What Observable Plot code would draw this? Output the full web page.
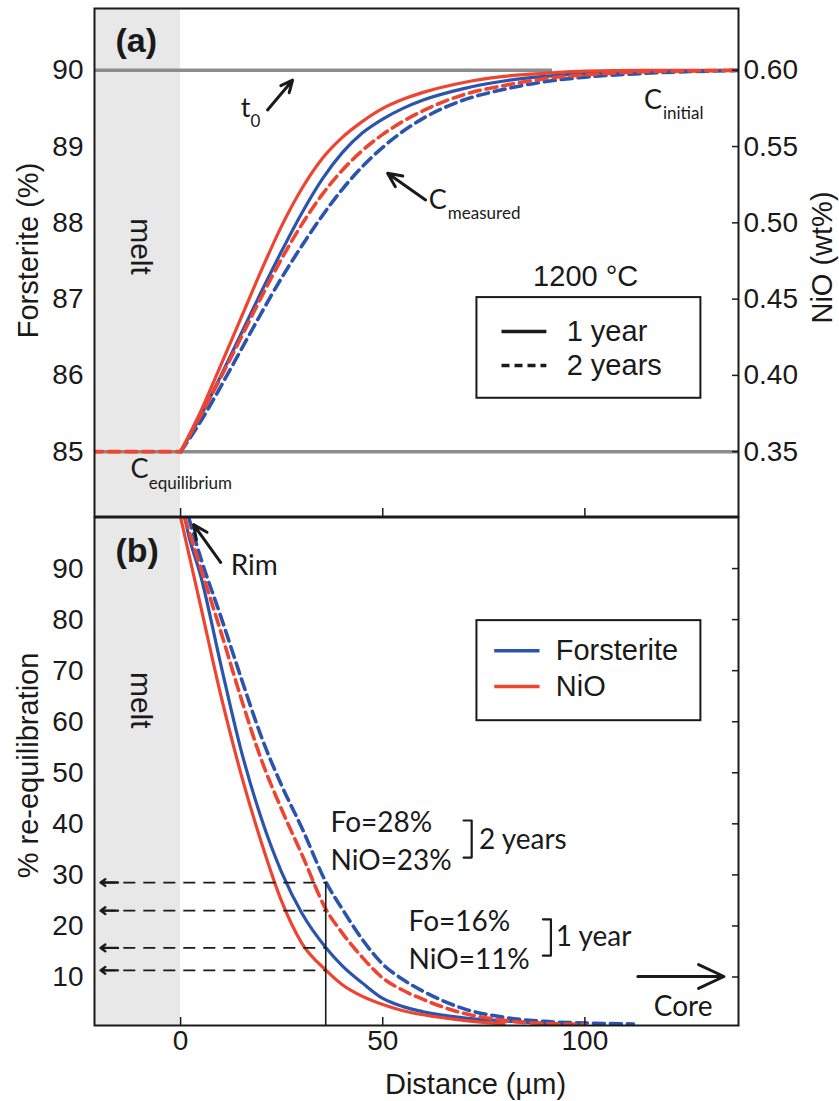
<!DOCTYPE html>
<html><head><meta charset="utf-8">
<script src="https://cdn.jsdelivr.net/npm/d3@7"></script>
<script src="https://cdn.jsdelivr.net/npm/@observablehq/plot@0.6"></script>
<style>
html,body{margin:0;padding:0;background:#fff;}
svg{display:block;}
</style></head><body><div id="chart"></div>
<script>
// ---------- colours & fonts ----------
const RED = "#ee4430", BLUE = "#2a54ad", MELT = "#e8e8e8", GREYLINE = "#8c8c8c", INK = "#1a1a1a";
const FONT = "'Liberation Sans', Arial, Helvetica, sans-serif";
const FONT2 = "Lato, 'Open Sans', sans-serif";

// ---------- panel (a): concentration profiles ----------
const distA  = [0, 5, 10, 15, 20, 25, 30, 35, 40, 45, 50, 55, 60, 70, 80, 90, 100, 115, 140];
const foA1   = [85, 85.47, 86.0, 86.55, 87.1, 87.63, 88.13, 88.57, 88.92, 89.18, 89.36, 89.5, 89.61, 89.76, 89.86, 89.92, 89.96, 89.99, 90];
const foA2   = [85, 85.4, 85.86, 86.34, 86.82, 87.28, 87.7, 88.09, 88.44, 88.74, 88.99, 89.2, 89.37, 89.61, 89.75, 89.85, 89.91, 89.96, 90];
const nioA1  = [0.350, 0.3765, 0.407, 0.438, 0.469, 0.498, 0.5225, 0.542, 0.556, 0.5665, 0.575, 0.581, 0.5855, 0.592, 0.596, 0.598, 0.5995, 0.600, 0.600];
const nioA2  = [0.350, 0.374, 0.399, 0.425, 0.4515, 0.4765, 0.499, 0.5185, 0.5345, 0.5475, 0.558, 0.5665, 0.5735, 0.584, 0.590, 0.5945, 0.597, 0.599, 0.600];
const meltDist = [-22, 0];          // profile inside the melt (C equilibrium)
const meltFo   = [85, 85];
const foTicks  = [85, 86, 87, 88, 89, 90];
const nioTicks = [0.35, 0.40, 0.45, 0.50, 0.55, 0.60];
const xTicks   = [0, 50, 100];
const cInitial = 90, cEquil = 85, t0End = 92;

// twin axis: NiO 0.35 wt% <-> Fo 85, NiO 0.60 wt% <-> Fo 90
const nioToFo = v => 85 + (v - 0.35) / 0.05;
const foToNio = f => 0.35 + (f - 85) * 0.05;

// ---------- panel (b): % re-equilibration ----------
const distB  = [0, 1, 2, 5, 10, 15, 20, 25, 30, 36, 40, 45, 50, 55, 60, 70, 80, 90, 100, 112];
const reNiO1 = [100, 96.5, 93, 82.5, 65, 49.6, 36.3, 24.8, 16.6, 11.3, 8.5, 6.2, 4.6, 3.4, 2.6, 1.5, 0.8, null, null, null];
const reFo1  = [null, 100, 96.5, 88.5, 71, 54.3, 41, 30.5, 22.5, 15.7, 12.2, 8.8, 5.8, 4.2, 3.2, 2.0, 1.4, 0.9, 0.6, null];
const reNiO2 = [null, 100, 97.5, 90, 77.5, 64.5, 52.5, 42.8, 34, 23.2, 18.6, 13.8, 9.8, 7.4, 5.6, 2.9, 1.5, 0.9, 0.7, null];
const reFo2  = [null, null, 100, 92, 80.5, 68.5, 57, 47.5, 39.2, 28.5, 23.3, 17.3, 12.5, 9.5, 7.2, 3.8, 2.1, 1.3, 1.0, 0.8];
const reTicks = [10, 20, 30, 40, 50, 60, 70, 80, 90];
const readX = 35.9;                      // distance of the read-off line
const readVals = [28.5, 23, 15.7, 11.3]; // Fo 2y, NiO 2y, Fo 1y, NiO 1y

// ---------- tidy tables ----------
const tidy = (xs, ys, conv = v => v) => xs.map((d, i) => ({d, v: ys[i] == null ? null : conv(ys[i])}));
const aFo1 = tidy(distA, foA1), aFo2 = tidy(distA, foA2);
const aNi1 = tidy(distA, nioA1, nioToFo), aNi2 = tidy(distA, nioA2, nioToFo);
const aMelt = tidy(meltDist, meltFo);
const bFo1 = tidy(distB, reFo1), bFo2 = tidy(distB, reFo2);
const bNi1 = tidy(distB, reNiO1), bNi2 = tidy(distB, reNiO2);

const X_DOMAIN = [-21.3, 138];
const DASH = "11,6";
const lineOpts = (stroke, dash) => ({x: "d", y: "v", stroke, strokeWidth: dash ? 3.6 : 3.2, curve: "monotone-x", clip: true, strokeDasharray: dash});

// annotation positions (data units)
const annA = {
  bold: [{x: -16.1, y: 90.38, t: "(a)"}],
  big: [{x: -12.4, y: 84.77, t: "C"}, {x: 61.4, y: 88.3, t: "C"}, {x: 114.6, y: 89.61, t: "C"}, {x: 14.85, y: 89.5, t: "t"}],
  sub: [{x: -7.9, y: 84.58, t: "equilibrium"}, {x: 66.1, y: 88.12, t: "measured"}, {x: 119.3, y: 89.43, t: "initial"}, {x: 17.3, y: 89.33, t: "0"}],
  arrows: [{x1: 21.5, y1: 89.48, x2: 27.7, y2: 89.87}, {x1: 60.6, y1: 88.3, x2: 51.2, y2: 88.65}],
  melt: [{x: -9.9, y: 87.69, t: "melt"}],
  temp: [{x: 100.2, y: 87.29, t: "1200 °C"}],
  legBox: [{x1: 73.3, x2: 128.7, y1: 85.70, y2: 87.02}],
  legSolid: [{x1: 79.5, x2: 90.6, y: 86.575}],
  legDash: [{x1: 79.5, x2: 90.6, y: 86.13}],
  legText: [{x: 95.5, y: 86.575, t: "1 year"}, {x: 95.5, y: 86.13, t: "2 years"}]
};
const annB = {
  bold: [{x: -16.1, y: 93.5, t: "(b)"}],
  notes: [{x: 12.4, y: 90.4, t: "Rim"}, {x: 37.1, y: 40.1, t: "Fo=28%"}, {x: 37.1, y: 32.8, t: "NiO=23%"},
          {x: 73.8, y: 36.8, t: "2 years"}, {x: 56.4, y: 20.7, t: "Fo=16%"}, {x: 56.4, y: 13.4, t: "NiO=11%"},
          {x: 92.8, y: 17.9, t: "1 year"}],
  core: [{x: 124.3, y: 4.2, t: "Core"}],
  arrows: [{x1: 9.9, y1: 91.2, x2: 3.2, y2: 98.6}, {x1: 113.1, y1: 10.1, x2: 134.4, y2: 10.1}],
  brackets: [
    {g: "2y", x: 70.0, y: 40.65}, {g: "2y", x: 72.0, y: 40.65}, {g: "2y", x: 72.0, y: 33.4}, {g: "2y", x: 70.0, y: 33.4},
    {g: "1y", x: 89.6, y: 21.3}, {g: "1y", x: 91.6, y: 21.3}, {g: "1y", x: 91.6, y: 14.2}, {g: "1y", x: 89.6, y: 14.2}
  ],
  melt: [{x: -9.9, y: 64.2, t: "melt"}],
  legBox: [{x1: 73.3, x2: 128.7, y1: 60.2, y2: 79.8}],
  legLines: [{x1: 77.7, x2: 88.9, y: 73.9, c: BLUE}, {x1: 77.7, x2: 88.9, y: 66.9, c: RED}],
  legText: [{x: 92.8, y: 73.9, t: "Forsterite"}, {x: 92.8, y: 66.9, t: "NiO"}]
};

const style = {fontFamily: FONT, fontSize: "28px", color: INK, background: "white", overflow: "visible"};

// ---------- panel (a) ----------
const plotA = Plot.plot({
  width: 839, height: 516,
  marginLeft: 94, marginRight: 101, marginTop: 8, marginBottom: 0,
  x: {domain: X_DOMAIN},
  y: {domain: [84.15, 90.81]},
  style,
  marks: [
    Plot.rect([{x1: X_DOMAIN[0] - 10, x2: 0, y1: 80, y2: 95}], {x1: "x1", x2: "x2", y1: "y1", y2: "y2", fill: MELT, clip: true}),
    Plot.ruleY([{y: cInitial, x1: X_DOMAIN[0] - 10, x2: t0End}, {y: cEquil, x1: X_DOMAIN[0] - 10, x2: X_DOMAIN[1] + 10}],
      {y: "y", x1: "x1", x2: "x2", stroke: GREYLINE, strokeWidth: 3.5, clip: true}),
    Plot.line(aFo1, lineOpts(BLUE)),
    Plot.line(aNi1, lineOpts(RED)),
    Plot.line(aFo2, lineOpts(BLUE, DASH)),
    Plot.line(aNi2, lineOpts(RED, DASH)),
    Plot.line(aMelt, lineOpts(RED, DASH)),
    Plot.text(annA.melt, {x: "x", y: "y", text: "t", rotate: 90, fontSize: 30, fill: INK}),
    Plot.text(annA.bold, {x: "x", y: "y", text: "t", textAnchor: "start", fontSize: 34, fontWeight: "bold", fill: INK}),
    Plot.text(annA.big, {x: "x", y: "y", text: "t", textAnchor: "start", fontSize: 27, fontFamily: FONT2, fill: INK}),
    Plot.text(annA.sub, {x: "x", y: "y", text: "t", textAnchor: "start", fontSize: 17, fontFamily: FONT2, fill: INK}),
    Plot.arrow(annA.arrows, {x1: "x1", y1: "y1", x2: "x2", y2: "y2", stroke: INK, strokeWidth: 3, headLength: 14, headAngle: 50}),
    Plot.text(annA.temp, {x: "x", y: "y", text: "t", fontSize: 29, fill: INK}),
    Plot.rect(annA.legBox, {x1: "x1", x2: "x2", y1: "y1", y2: "y2", fill: "white", stroke: INK, strokeWidth: 2}),
    Plot.ruleY(annA.legSolid, {y: "y", x1: "x1", x2: "x2", stroke: INK, strokeWidth: 3.5}),
    Plot.ruleY(annA.legDash, {y: "y", x1: "x1", x2: "x2", stroke: INK, strokeWidth: 3.5, strokeDasharray: "8,5"}),
    Plot.text(annA.legText, {x: "x", y: "y", text: "t", textAnchor: "start", fontSize: 29, fill: INK}),
    // axes
    Plot.axisY(foTicks, {anchor: "left", tickSize: 0, tickPadding: 11, fontSize: 28, label: null, tickFormat: d3.format("d")}),
    Plot.axisY(nioTicks.map(nioToFo), {anchor: "right", tickSize: 0, tickPadding: 5, fontSize: 28, label: null,
      tickFormat: f => foToNio(f).toFixed(2)}),
    Plot.axisY(nioTicks.map(nioToFo), {anchor: "right", tickSize: 7, dx: -7, fill: "none", label: null, strokeWidth: 1.5}),
    Plot.axisX(xTicks, {anchor: "bottom", tickSize: 8, dy: -8, fill: "none", label: null, strokeWidth: 1.5}),
    Plot.text(["Forsterite (%)"], {frameAnchor: "left", textAnchor: "middle", lineAnchor: "middle", dx: -66, dy: -12, rotate: -90, fontSize: 29, fill: INK}),
    Plot.text(["NiO (wt%)"], {frameAnchor: "right", textAnchor: "middle", lineAnchor: "middle", dx: 84, dy: -5, rotate: -90, fontSize: 29, fill: INK}),
    Plot.frame({stroke: INK, strokeWidth: 2})
  ]
});

// ---------- panel (b) ----------
const plotB = Plot.plot({
  width: 839, height: 585,
  marginLeft: 94, marginRight: 101, marginTop: 1, marginBottom: 76,
  x: {domain: X_DOMAIN},
  y: {domain: [0.5, 100]},
  style,
  marks: [
    Plot.rect([{x1: X_DOMAIN[0] - 10, x2: 0, y1: -10, y2: 110}], {x1: "x1", x2: "x2", y1: "y1", y2: "y2", fill: MELT, clip: true}),
    Plot.line(bFo1, lineOpts(BLUE)),
    Plot.line(bNi1, lineOpts(RED)),
    Plot.line(bFo2, lineOpts(BLUE, DASH)),
    Plot.line(bNi2, lineOpts(RED, DASH)),
    // read-off lines
    Plot.ruleX([readX], {y1: 0, y2: readVals[0], stroke: INK, strokeWidth: 1.6, clip: true}),
    Plot.ruleY(readVals, {y: d => d, x1: -19, x2: readX, stroke: INK, strokeWidth: 1.8, strokeDasharray: "12,8"}),
    Plot.arrow(readVals, {x1: -15.5, x2: -19.8, y1: d => d, y2: d => d, stroke: INK, strokeWidth: 2.4, headLength: 11, headAngle: 70}),
    Plot.text(annB.melt, {x: "x", y: "y", text: "t", rotate: 90, fontSize: 30, fill: INK}),
    Plot.text(annB.bold, {x: "x", y: "y", text: "t", textAnchor: "start", fontSize: 34, fontWeight: "bold", fill: INK}),
    Plot.text(annB.notes, {x: "x", y: "y", text: "t", textAnchor: "start", fontSize: 28, fontFamily: FONT2, fill: INK}),
    Plot.text(annB.core, {x: "x", y: "y", text: "t", fontSize: 28, fontFamily: FONT2, fill: INK}),
    Plot.arrow(annB.arrows, {x1: "x1", y1: "y1", x2: "x2", y2: "y2", stroke: INK, strokeWidth: 3, headLength: 14, headAngle: 50}),
    Plot.line(annB.brackets, {x: "x", y: "y", z: "g", stroke: INK, strokeWidth: 2.2}),
    Plot.rect(annB.legBox, {x1: "x1", x2: "x2", y1: "y1", y2: "y2", fill: "white", stroke: INK, strokeWidth: 2}),
    Plot.ruleY(annB.legLines, {y: "y", x1: "x1", x2: "x2", stroke: "c", strokeWidth: 3.5}),
    Plot.text(annB.legText, {x: "x", y: "y", text: "t", textAnchor: "start", fontSize: 29, fill: INK}),
    // axes
    Plot.axisY(reTicks, {anchor: "left", tickSize: 0, tickPadding: 11, fontSize: 28, label: null}),
    Plot.axisY(reTicks, {anchor: "right", tickSize: 7, dx: -7, fill: "none", label: null, strokeWidth: 1.5}),
    Plot.axisX(xTicks, {anchor: "bottom", tickSize: 0, tickPadding: 5, fontSize: 28, label: null}),
    Plot.axisX(xTicks, {anchor: "bottom", tickSize: 8, dy: -8, fill: "none", label: null, strokeWidth: 1.5}),
    Plot.text(["% re-equilibration"], {frameAnchor: "left", textAnchor: "middle", lineAnchor: "middle", dx: -66, dy: -6, rotate: -90, fontSize: 29, fill: INK}),
    Plot.text(["Distance (µm)"], {frameAnchor: "bottom", textAnchor: "middle", lineAnchor: "middle", dx: 59, dy: 59, fontSize: 29, fill: INK}),
    Plot.frame({stroke: INK, strokeWidth: 2})
  ]
});

const root = document.getElementById("chart");
root.append(plotA, plotB);
</script>
</body></html>
